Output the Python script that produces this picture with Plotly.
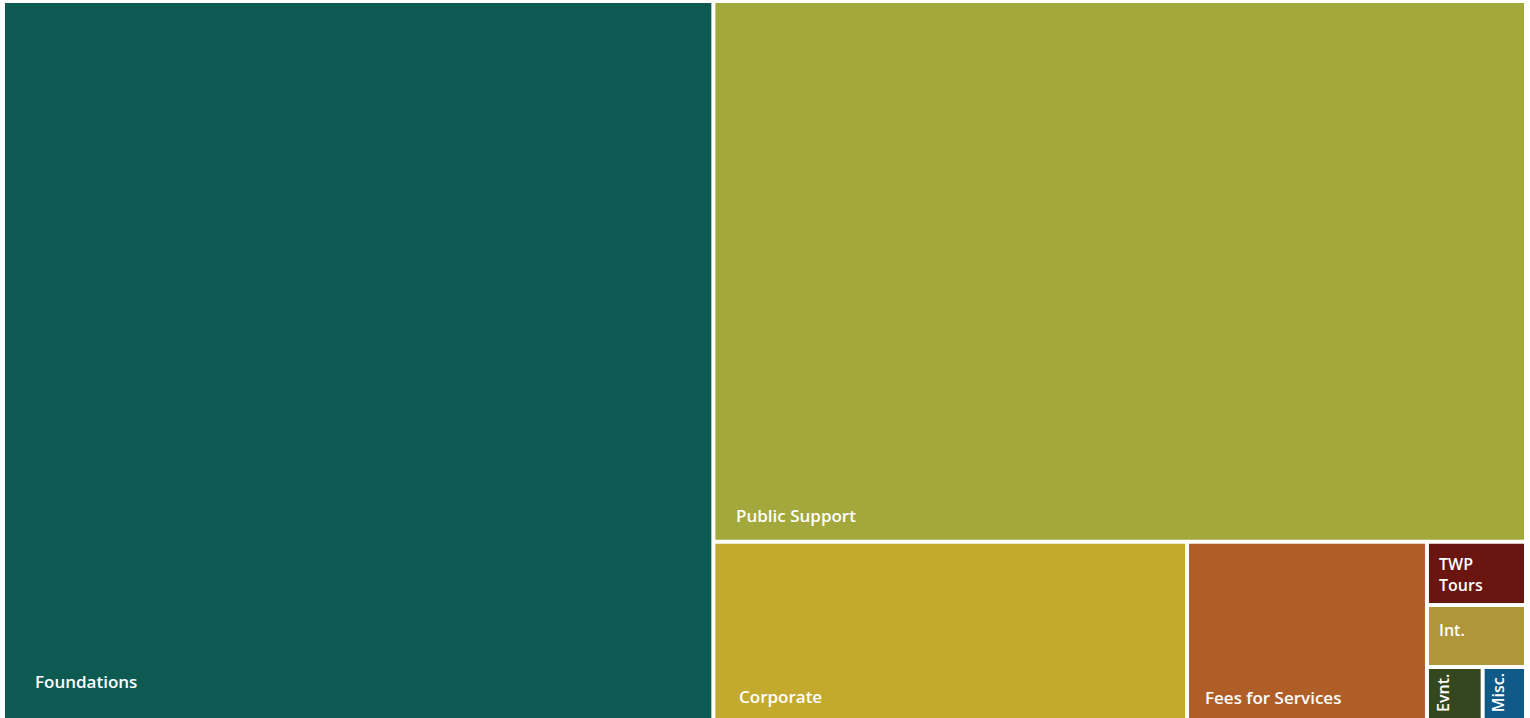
import plotly.graph_objects as go

# ---- data ----
labels = ["Foundations", "Public Support", "Corporate", "Fees for Services",
          "TWP Tours", "Int.", "Evnt.", "Misc."]
values = [46.6, 40.1, 7.7, 3.9, 0.57, 0.56, 0.27, 0.21]
display = ["Foundations", "Public Support", "Corporate", "Fees for Services",
           "TWP<br>Tours", "Int.", "Evnt.", "Misc."]
colors = ["#0D5A52", "#A2A83B", "#C4A92F", "#B05E28",
          "#6B1511", "#B0963B", "#34471F", "#0F5A87"]

# ---- layout structure (h: side by side, v: stacked top-to-bottom) ----
tree = ("h", [0, ("v", [1, ("h", [2, 3, ("v", [4, 5, ("h", [6, 7])])])])])

PLOT_W, PLOT_H = 1523, 719   # pixel size of the treemap box
GAP = 2                       # px inset on each side
YMIN = GAP / PLOT_H

def total(node):
    if isinstance(node, int):
        return values[node]
    return sum(total(c) for c in node[1])

rects = {}

def place(node, x0, y0, x1, y1):
    if isinstance(node, int):
        rects[node] = (x0, y0, x1, y1)
        return
    d, kids = node
    s = total(node)
    if d == "h":
        x = x0
        for k in kids:
            w = (x1 - x0) * total(k) / s
            place(k, x, y0, x + w, y1)
            x += w
    else:
        y = y1
        for k in kids:
            h = (y1 - y0) * total(k) / s
            place(k, x0, max(y - h, y0), x1, y)
            y -= h

place(tree, 0.0, 0.0, 1.0, 1.0)

gx, gy = GAP / PLOT_W, GAP / PLOT_H

# label placement (style): (mode, dx px, dy px, font size)
label_style = {
    0: ("bl", 28, 37, 17),
    1: ("bl", 19, 24, 17),
    2: ("bl", 22, 22, 17),
    3: ("bl", 14, 21, 17),
    4: ("tl", 8, 31, 16),
    5: ("bl", 8, 35, 16),
    6: ("rot", 14, 4, 16),
    7: ("rot", 13, 4, 16),
}

fig = go.Figure()
shapes = []
annotations = []
cx, cy, ht = [], [], []
for i in range(len(labels)):
    x0, y0, x1, y1 = rects[i]
    ix0, iy0, ix1, iy1 = x0 + gx, y0 + gy, x1 - gx, y1 - gy
    shapes.append(dict(type="rect", xref="x", yref="y", x0=ix0, y0=iy0, x1=ix1, y1=iy1,
                       fillcolor=colors[i], line=dict(width=0), layer="below"))
    cx.append((ix0 + ix1) / 2)
    cy.append((iy0 + iy1) / 2)
    ht.append(f"{labels[i]}: {values[i]}%")
    mode, dx, dy, fs = label_style[i]
    ay = max(iy0, YMIN)
    font = dict(family="'Open Sans', sans-serif", size=fs, color="white", weight=600)
    if mode == "bl":
        annotations.append(dict(x=ix0, y=ay, xref="x", yref="y", text=display[i],
                                showarrow=False, xanchor="left", yanchor="middle",
                                xshift=dx, yshift=dy, font=font, align="left"))
    elif mode == "tl":
        annotations.append(dict(x=ix0, y=iy1, xref="x", yref="y", text=display[i],
                                showarrow=False, xanchor="left", yanchor="middle",
                                xshift=dx, yshift=-dy, font=font, align="left"))
    else:
        annotations.append(dict(x=ix0, y=ay, xref="x", yref="y", text=display[i],
                                showarrow=False, xanchor="center", yanchor="bottom",
                                xshift=dx, yshift=dy, font=font, textangle=-90))

fig.add_trace(go.Scatter(x=cx, y=cy, mode="markers", marker=dict(opacity=0, size=1),
                         hovertext=ht, hoverinfo="text", showlegend=False))

fig.update_layout(
    width=1530, height=718,
    margin=dict(l=3, r=4, t=1, b=0, pad=0),
    paper_bgcolor="white", plot_bgcolor="white",
    shapes=shapes, annotations=annotations,
    xaxis=dict(range=[0, 1], visible=False, fixedrange=True),
    yaxis=dict(range=[YMIN, 1], visible=False, fixedrange=True),
    showlegend=False,
)

fig.write_html("out.html")
